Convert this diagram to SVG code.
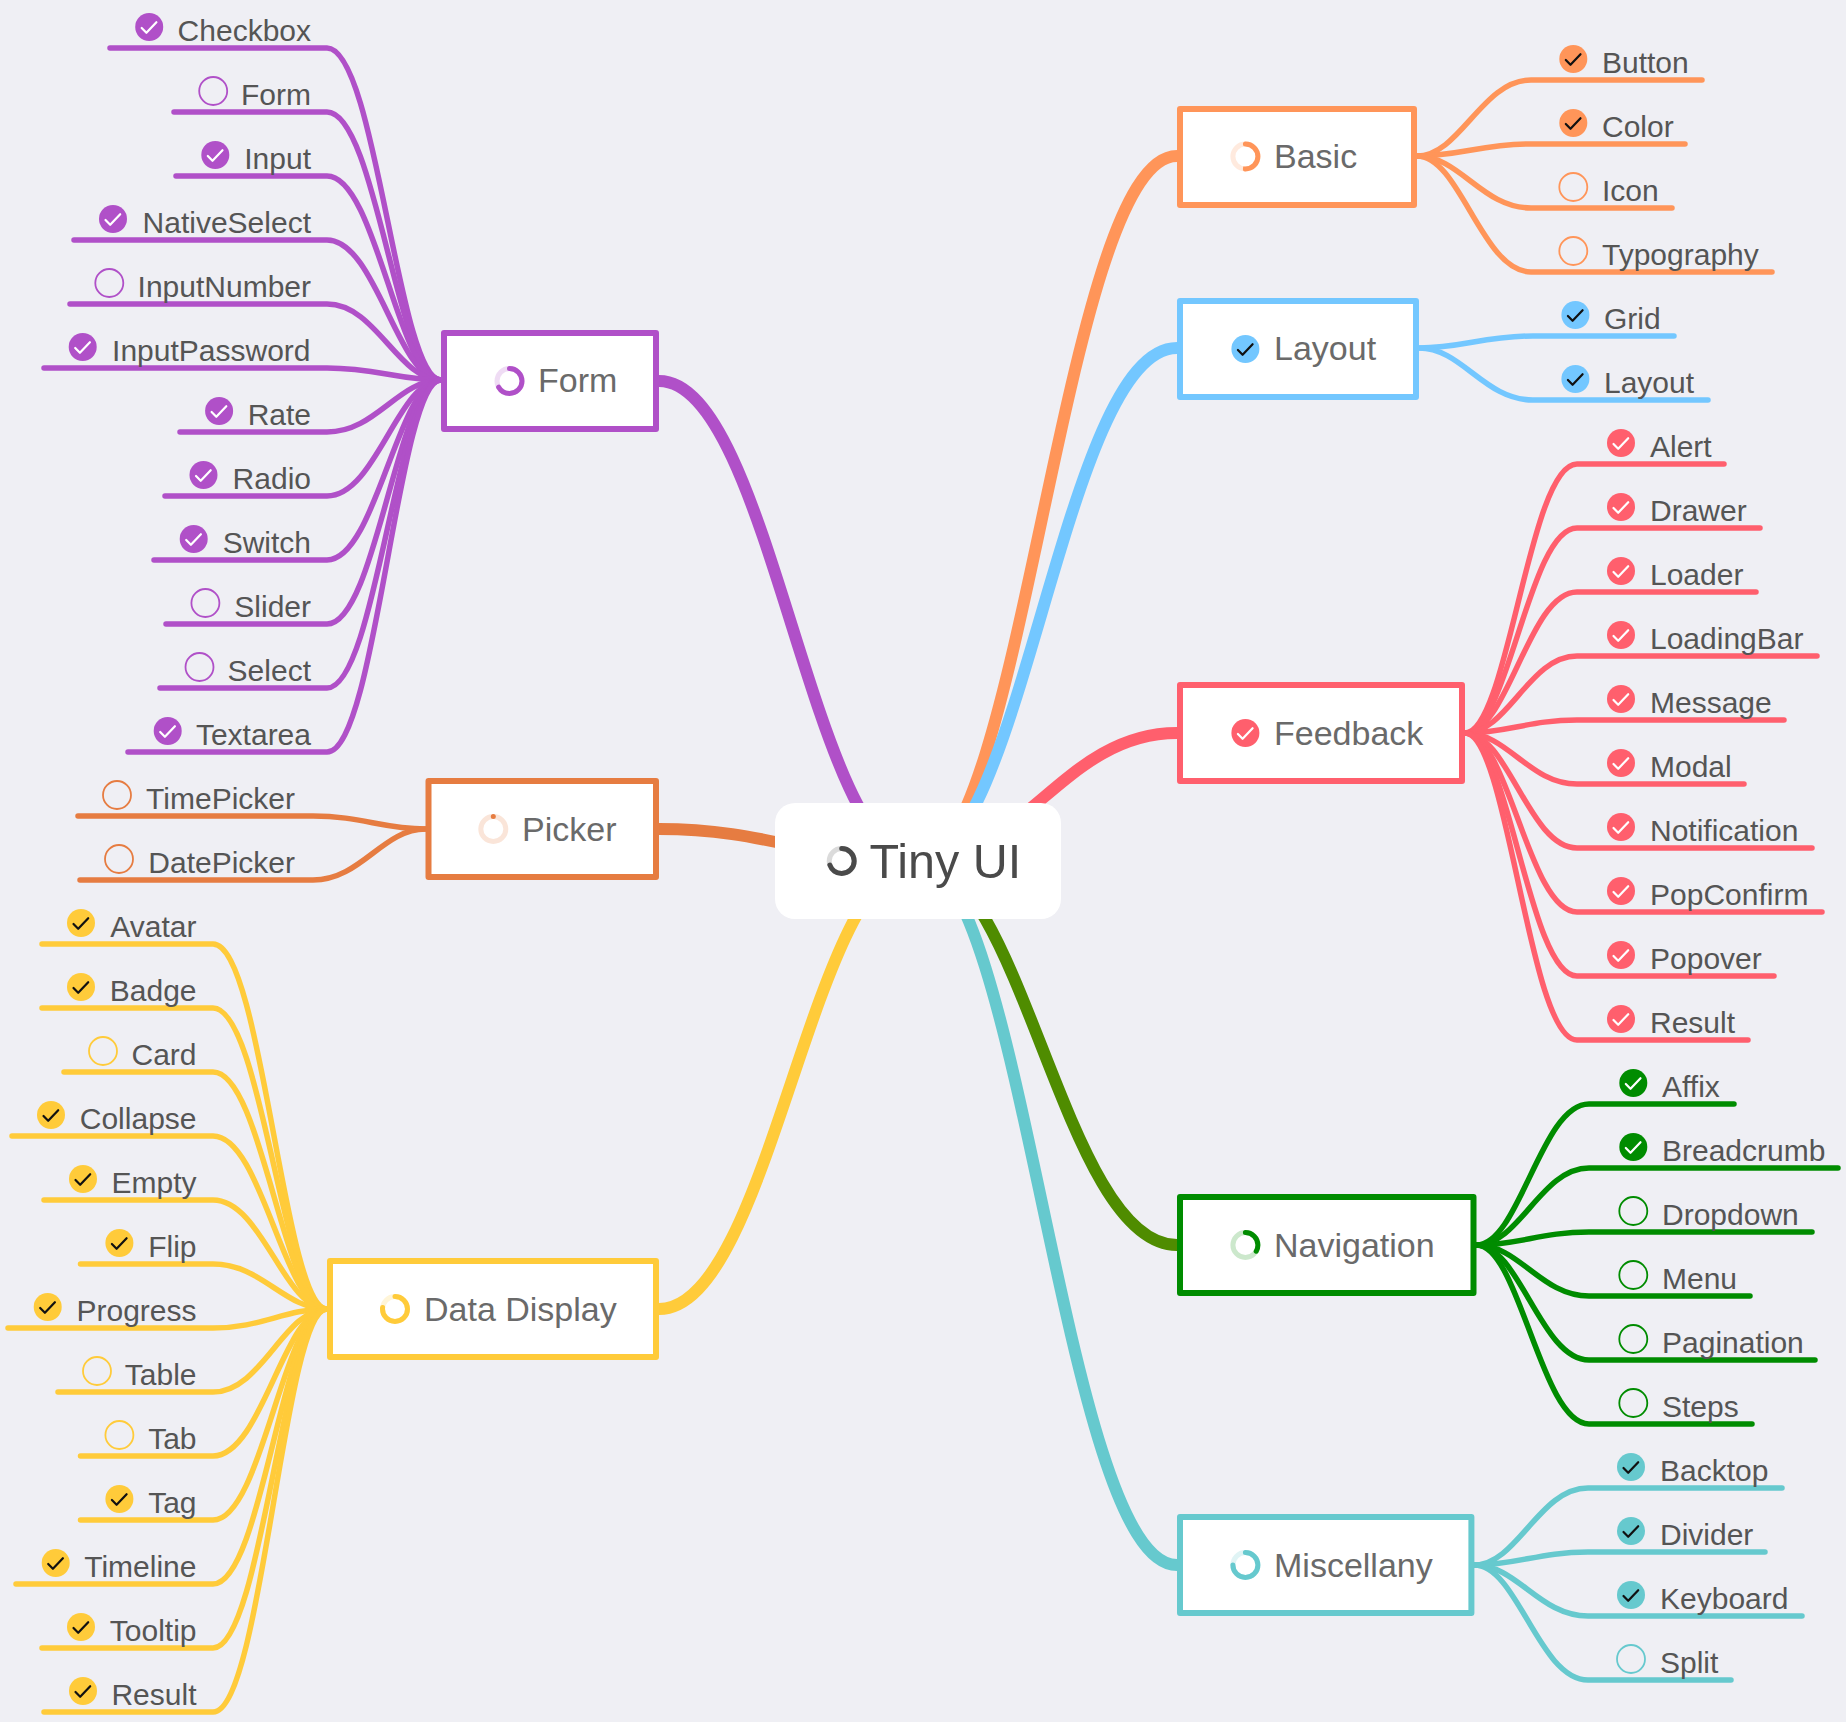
<svg xmlns="http://www.w3.org/2000/svg" width="1846" height="1722" viewBox="0 0 1846 1722">
<style>
text{font-family:"Liberation Sans",Arial,Helvetica,sans-serif}
.leaf{font-size:30px;fill:#555}
.e{text-anchor:end}
.hd{font-size:34px;fill:#6a6a6a}
.root{font-size:48.5px;fill:#4a4a4a}
.c path{fill:none;stroke-linecap:round}
.sub{stroke-width:5.5}
.main{stroke-width:12}
.box{fill:#fff;stroke-width:6;stroke-linejoin:round}
.hol{fill:none;stroke-width:1.8}
.t{fill:none;stroke-width:2.2;stroke:#111;stroke-linecap:round;stroke-linejoin:round}
.tw{fill:none;stroke-width:2.2;stroke:#fff;stroke-linecap:round;stroke-linejoin:round}
.rb{fill:none;stroke-width:5;stroke-opacity:.2}
.rf{fill:none;stroke-width:5;stroke-linecap:round}
.or{stroke:#ff9559}.orf{fill:#ff9559}
.bl{stroke:#73c7ff}.blf{fill:#73c7ff}
.re{stroke:#ff5f6d}.ref{fill:#ff5f6d}
.gr{stroke:#008c00}.grf{fill:#008c00}
.te{stroke:#66c9ce}.tef{fill:#66c9ce}
.ye{stroke:#ffcb3a}.yef{fill:#ffcb3a}
.pu{stroke:#b050c8}.puf{fill:#b050c8}
.pi{stroke:#e67c41}
</style>
<defs>
<path id="tick" d="M-7.5 1-2.8 5.8 7.2-4.8"/>
</defs>
<rect width="1846" height="1722" fill="#efeff4"/>
<g id="connectors" class="c">
<g id="main-branches" class="main">
<path class="or" d="M918 861C1022 861 1064 156 1177 156"/>
<path class="bl" d="M918 861C1022 861 1064 348 1177 348"/>
<path class="re" d="M918 861C1022 861 1064 733 1177 733"/>
<path stroke="#4f8c00" d="M918 861C1022 861 1064 1245 1177 1245"/>
<path class="te" d="M918 861C1022 861 1064 1565 1177 1565"/>
<path class="pu" d="M918 861C812 861 770 381 659 381"/>
<path class="pi" d="M918 861C812 861 770 829 659 829"/>
<path class="ye" d="M918 861C812 861 770 1309 659 1309"/>
</g>
<g id="basic-branches" class="sub or">
<path d="M1417 156C1460 156 1482 80 1531 80H1702"/>
<path d="M1417 156C1460 156 1482 144 1531 144H1685"/>
<path d="M1417 156C1460 156 1482 208 1531 208H1672"/>
<path d="M1417 156C1460 156 1482 272 1531 272H1772"/>
</g>
<g id="layout-branches" class="sub bl">
<path d="M1419 348C1462 348 1484 336 1533 336H1674"/>
<path d="M1419 348C1462 348 1484 400 1533 400H1708"/>
</g>
<g id="feedback-branches" class="sub re">
<path d="M1465 733C1508 733 1529 464 1577 464H1724"/>
<path d="M1465 733C1508 733 1529 528 1577 528H1760"/>
<path d="M1465 733C1508 733 1529 592 1577 592H1756"/>
<path d="M1465 733C1508 733 1529 656 1577 656H1817"/>
<path d="M1465 733C1508 733 1529 720 1577 720H1784"/>
<path d="M1465 733C1508 733 1529 784 1577 784H1744"/>
<path d="M1465 733C1508 733 1529 848 1577 848H1812"/>
<path d="M1465 733C1508 733 1529 912 1577 912H1822"/>
<path d="M1465 733C1508 733 1529 976 1577 976H1774"/>
<path d="M1465 733C1508 733 1529 1040 1577 1040H1748"/>
</g>
<g id="navigation-branches" class="sub gr">
<path d="M1476.5 1245C1519.5 1245 1541 1104 1589 1104H1734"/>
<path d="M1476.5 1245C1519.5 1245 1541 1168 1589 1168H1838"/>
<path d="M1476.5 1245C1519.5 1245 1541 1232 1589 1232H1812"/>
<path d="M1476.5 1245C1519.5 1245 1541 1296 1589 1296H1750"/>
<path d="M1476.5 1245C1519.5 1245 1541 1360 1589 1360H1815"/>
<path d="M1476.5 1245C1519.5 1245 1541 1424 1589 1424H1752"/>
</g>
<g id="miscellany-branches" class="sub te">
<path d="M1474.4 1565C1517.4 1565 1539 1488 1588 1488H1782"/>
<path d="M1474.4 1565C1517.4 1565 1539 1552 1588 1552H1765"/>
<path d="M1474.4 1565C1517.4 1565 1539 1616 1588 1616H1802"/>
<path d="M1474.4 1565C1517.4 1565 1539 1680 1588 1680H1731"/>
</g>
<g id="form-branches" class="sub pu">
<path d="M441 380C398 380 376 48 327 48H110"/>
<path d="M441 380C398 380 376 112 327 112H174"/>
<path d="M441 380C398 380 376 176 327 176H176"/>
<path d="M441 380C398 380 376 240 327 240H74"/>
<path d="M441 380C398 380 376 304 327 304H70"/>
<path d="M441 380C398 380 376 368 327 368H44"/>
<path d="M441 380C398 380 376 432 327 432H180"/>
<path d="M441 380C398 380 376 496 327 496H165"/>
<path d="M441 380C398 380 376 560 327 560H154"/>
<path d="M441 380C398 380 376 624 327 624H166"/>
<path d="M441 380C398 380 376 688 327 688H160"/>
<path d="M441 380C398 380 376 752 327 752H128"/>
</g>
<g id="picker-branches" class="sub pi">
<path d="M425.5 829C382.5 829 361 816 313 816H78"/>
<path d="M425.5 829C382.5 829 361 880 313 880H80"/>
</g>
<g id="data-branches" class="sub ye">
<path d="M327 1309C284 1309 262 944 213 944H42"/>
<path d="M327 1309C284 1309 262 1008 213 1008H42"/>
<path d="M327 1309C284 1309 262 1072 213 1072H64"/>
<path d="M327 1309C284 1309 262 1136 213 1136H12"/>
<path d="M327 1309C284 1309 262 1200 213 1200H44"/>
<path d="M327 1309C284 1309 262 1264 213 1264H80.5"/>
<path d="M327 1309C284 1309 262 1328 213 1328H8"/>
<path d="M327 1309C284 1309 262 1392 213 1392H58"/>
<path d="M327 1309C284 1309 262 1456 213 1456H80.5"/>
<path d="M327 1309C284 1309 262 1520 213 1520H80.5"/>
<path d="M327 1309C284 1309 262 1584 213 1584H16"/>
<path d="M327 1309C284 1309 262 1648 213 1648H42"/>
<path d="M327 1309C284 1309 262 1712 213 1712H44"/>
</g>
</g>
<g id="root">
<rect x="775" y="803" width="286" height="116" rx="20" fill="#fff"/>
<circle class="rb" cx="841.7" cy="861" r="12.5" stroke="#4a4a4a"/>
<circle class="rf" cx="841.7" cy="861" r="12.5" stroke="#4a4a4a" pathLength="360" stroke-dasharray="251 360" transform="rotate(-90 841.7 861)"/>
<text class="root" x="869.5" y="878">Tiny UI</text>
</g>
<g id="basic">
<rect class="box or" x="1180" y="109" width="234" height="96"/>
<circle class="rb or" cx="1245.4" cy="156.5" r="12.5"/>
<circle class="rf or" cx="1245.4" cy="156.5" r="12.5" pathLength="360" stroke-dasharray="180 360" transform="rotate(-90 1245.4 156.5)"/>
<text class="hd" x="1274" y="168">Basic</text>
</g>
<g id="layout">
<rect class="box bl" x="1180" y="301" width="236" height="96"/>
<circle class="blf" cx="1245.4" cy="349" r="14"/>
<use href="#tick" class="t" x="1245.4" y="349"/>
<text class="hd" x="1274" y="360">Layout</text>
</g>
<g id="feedback">
<rect class="box re" x="1180" y="685" width="282" height="96"/>
<circle class="ref" cx="1245.4" cy="733" r="14"/>
<use href="#tick" class="tw" x="1245.4" y="733"/>
<text class="hd" x="1274" y="745">Feedback</text>
</g>
<g id="navigation">
<rect class="box gr" x="1180" y="1197" width="293.5" height="96"/>
<circle class="rb gr" cx="1245.4" cy="1245" r="12.5"/>
<circle class="rf gr" cx="1245.4" cy="1245" r="12.5" pathLength="360" stroke-dasharray="120 360" transform="rotate(-90 1245.4 1245)"/>
<text class="hd" x="1274" y="1257">Navigation</text>
</g>
<g id="miscellany">
<rect class="box te" x="1180" y="1517" width="291.4" height="96"/>
<circle class="rb te" cx="1245.4" cy="1565" r="12.5"/>
<circle class="rf te" cx="1245.4" cy="1565" r="12.5" pathLength="360" stroke-dasharray="270 360" transform="rotate(-90 1245.4 1565)"/>
<text class="hd" x="1274" y="1577">Miscellany</text>
</g>
<g id="form">
<rect class="box pu" x="444" y="333" width="212" height="96"/>
<circle class="rb pu" cx="509.5" cy="381" r="12.5"/>
<circle class="rf pu" cx="509.5" cy="381" r="12.5" pathLength="360" stroke-dasharray="240 360" transform="rotate(-90 509.5 381)"/>
<text class="hd" x="538" y="392">Form</text>
</g>
<g id="picker">
<rect class="box pi" x="428.5" y="781" width="227.5" height="96"/>
<circle class="rb pi" cx="493.3" cy="829" r="12.5"/>
<circle class="rf pi" cx="493.3" cy="829" r="12.5" pathLength="360" stroke-dasharray="0 360" transform="rotate(-90 493.3 829)"/>
<text class="hd" x="522" y="840.5">Picker</text>
</g>
<g id="data-display">
<rect class="box ye" x="330" y="1261" width="326" height="96"/>
<circle class="rb ye" cx="395" cy="1309" r="12.5"/>
<circle class="rf ye" cx="395" cy="1309" r="12.5" pathLength="360" stroke-dasharray="277 360" transform="rotate(-90 395 1309)"/>
<text class="hd" x="424" y="1321">Data Display</text>
</g>
<g id="basic-leaves">
<g id="l-button"><circle class="orf" cx="1573.3" cy="59" r="14"/><use href="#tick" class="t" x="1573.3" y="59"/><text class="leaf" x="1602" y="72.5">Button</text></g>
<g id="l-color"><circle class="orf" cx="1573.3" cy="123" r="14"/><use href="#tick" class="t" x="1573.3" y="123"/><text class="leaf" x="1602" y="136.5">Color</text></g>
<g id="l-icon"><circle class="hol or" cx="1573.3" cy="187" r="14"/><text class="leaf" x="1602" y="200.5">Icon</text></g>
<g id="l-typography"><circle class="hol or" cx="1573.3" cy="251" r="14"/><text class="leaf" x="1602" y="264.5">Typography</text></g>
</g>
<g id="layout-leaves">
<g id="l-grid"><circle class="blf" cx="1575.4" cy="315" r="14"/><use href="#tick" class="t" x="1575.4" y="315"/><text class="leaf" x="1604" y="328.5">Grid</text></g>
<g id="l-layout"><circle class="blf" cx="1575.4" cy="379" r="14"/><use href="#tick" class="t" x="1575.4" y="379"/><text class="leaf" x="1604" y="392.5">Layout</text></g>
</g>
<g id="feedback-leaves">
<g id="l-alert"><circle class="ref" cx="1621" cy="443" r="14"/><use href="#tick" class="tw" x="1621" y="443"/><text class="leaf" x="1650" y="456.5">Alert</text></g>
<g id="l-drawer"><circle class="ref" cx="1621" cy="507" r="14"/><use href="#tick" class="tw" x="1621" y="507"/><text class="leaf" x="1650" y="520.5">Drawer</text></g>
<g id="l-loader"><circle class="ref" cx="1621" cy="571" r="14"/><use href="#tick" class="tw" x="1621" y="571"/><text class="leaf" x="1650" y="584.5">Loader</text></g>
<g id="l-loadingbar"><circle class="ref" cx="1621" cy="635" r="14"/><use href="#tick" class="tw" x="1621" y="635"/><text class="leaf" x="1650" y="648.5">LoadingBar</text></g>
<g id="l-message"><circle class="ref" cx="1621" cy="699" r="14"/><use href="#tick" class="tw" x="1621" y="699"/><text class="leaf" x="1650" y="712.5">Message</text></g>
<g id="l-modal"><circle class="ref" cx="1621" cy="763" r="14"/><use href="#tick" class="tw" x="1621" y="763"/><text class="leaf" x="1650" y="776.5">Modal</text></g>
<g id="l-notification"><circle class="ref" cx="1621" cy="827" r="14"/><use href="#tick" class="tw" x="1621" y="827"/><text class="leaf" x="1650" y="840.5">Notification</text></g>
<g id="l-popconfirm"><circle class="ref" cx="1621" cy="891" r="14"/><use href="#tick" class="tw" x="1621" y="891"/><text class="leaf" x="1650" y="904.5">PopConfirm</text></g>
<g id="l-popover"><circle class="ref" cx="1621" cy="955" r="14"/><use href="#tick" class="tw" x="1621" y="955"/><text class="leaf" x="1650" y="968.5">Popover</text></g>
<g id="l-result"><circle class="ref" cx="1621" cy="1019" r="14"/><use href="#tick" class="tw" x="1621" y="1019"/><text class="leaf" x="1650" y="1032.5">Result</text></g>
</g>
<g id="navigation-leaves">
<g id="l-affix"><circle class="grf" cx="1633.3" cy="1083" r="14"/><use href="#tick" class="tw" x="1633.3" y="1083"/><text class="leaf" x="1662" y="1096.5">Affix</text></g>
<g id="l-breadcrumb"><circle class="grf" cx="1633.3" cy="1147" r="14"/><use href="#tick" class="tw" x="1633.3" y="1147"/><text class="leaf" x="1662" y="1160.5">Breadcrumb</text></g>
<g id="l-dropdown"><circle class="hol gr" cx="1633.3" cy="1211" r="14"/><text class="leaf" x="1662" y="1224.5">Dropdown</text></g>
<g id="l-menu"><circle class="hol gr" cx="1633.3" cy="1275" r="14"/><text class="leaf" x="1662" y="1288.5">Menu</text></g>
<g id="l-pagination"><circle class="hol gr" cx="1633.3" cy="1339" r="14"/><text class="leaf" x="1662" y="1352.5">Pagination</text></g>
<g id="l-steps"><circle class="hol gr" cx="1633.3" cy="1403" r="14"/><text class="leaf" x="1662" y="1416.5">Steps</text></g>
</g>
<g id="miscellany-leaves">
<g id="l-backtop"><circle class="tef" cx="1631" cy="1467" r="14"/><use href="#tick" class="t" x="1631" y="1467"/><text class="leaf" x="1660" y="1480.5">Backtop</text></g>
<g id="l-divider"><circle class="tef" cx="1631" cy="1531" r="14"/><use href="#tick" class="t" x="1631" y="1531"/><text class="leaf" x="1660" y="1544.5">Divider</text></g>
<g id="l-keyboard"><circle class="tef" cx="1631" cy="1595" r="14"/><use href="#tick" class="t" x="1631" y="1595"/><text class="leaf" x="1660" y="1608.5">Keyboard</text></g>
<g id="l-split"><circle class="hol te" cx="1631" cy="1659" r="14"/><text class="leaf" x="1660" y="1672.5">Split</text></g>
</g>
<g id="form-leaves">
<g id="l-checkbox"><circle class="puf" cx="149.2" cy="27" r="14"/><use href="#tick" class="tw" x="149.2" y="27"/><text class="leaf e" x="311" y="40.5">Checkbox</text></g>
<g id="l-form"><circle class="hol pu" cx="213.2" cy="91" r="14"/><text class="leaf e" x="311" y="104.5">Form</text></g>
<g id="l-input"><circle class="puf" cx="215.3" cy="155" r="14"/><use href="#tick" class="tw" x="215.3" y="155"/><text class="leaf e" x="311" y="168.5">Input</text></g>
<g id="l-nativeselect"><circle class="puf" cx="113" cy="219" r="14"/><use href="#tick" class="tw" x="113" y="219"/><text class="leaf e" x="311" y="232.5">NativeSelect</text></g>
<g id="l-inputnumber"><circle class="hol pu" cx="109.3" cy="283" r="14"/><text class="leaf e" x="311" y="296.5">InputNumber</text></g>
<g id="l-inputpassword"><circle class="puf" cx="82.7" cy="347" r="14"/><use href="#tick" class="tw" x="82.7" y="347"/><text class="leaf e" x="310.5" y="360.5">InputPassword</text></g>
<g id="l-rate"><circle class="puf" cx="219.1" cy="411" r="14"/><use href="#tick" class="tw" x="219.1" y="411"/><text class="leaf e" x="311" y="424.5">Rate</text></g>
<g id="l-radio"><circle class="puf" cx="203.5" cy="475" r="14"/><use href="#tick" class="tw" x="203.5" y="475"/><text class="leaf e" x="311" y="488.5">Radio</text></g>
<g id="l-switch"><circle class="puf" cx="193.7" cy="539" r="14"/><use href="#tick" class="tw" x="193.7" y="539"/><text class="leaf e" x="311" y="552.5">Switch</text></g>
<g id="l-slider"><circle class="hol pu" cx="205.4" cy="603" r="14"/><text class="leaf e" x="311" y="616.5">Slider</text></g>
<g id="l-select"><circle class="hol pu" cx="199.5" cy="667" r="14"/><text class="leaf e" x="311" y="680.5">Select</text></g>
<g id="l-textarea"><circle class="puf" cx="167.7" cy="731" r="14"/><use href="#tick" class="tw" x="167.7" y="731"/><text class="leaf e" x="311" y="744.5">Textarea</text></g>
</g>
<g id="picker-leaves">
<g id="l-timepicker"><circle class="hol pi" cx="117" cy="795" r="14"/><text class="leaf e" x="295" y="808.5">TimePicker</text></g>
<g id="l-datepicker"><circle class="hol pi" cx="119" cy="859" r="14"/><text class="leaf e" x="295" y="872.5">DatePicker</text></g>
</g>
<g id="data-leaves">
<g id="l-avatar"><circle class="yef" cx="81" cy="923" r="14"/><use href="#tick" class="t" x="81" y="923"/><text class="leaf e" x="196.5" y="936.5">Avatar</text></g>
<g id="l-badge"><circle class="yef" cx="81" cy="987" r="14"/><use href="#tick" class="t" x="81" y="987"/><text class="leaf e" x="196.5" y="1000.5">Badge</text></g>
<g id="l-card"><circle class="hol ye" cx="103" cy="1051" r="14"/><text class="leaf e" x="196.5" y="1064.5">Card</text></g>
<g id="l-collapse"><circle class="yef" cx="51" cy="1115" r="14"/><use href="#tick" class="t" x="51" y="1115"/><text class="leaf e" x="196.5" y="1128.5">Collapse</text></g>
<g id="l-empty"><circle class="yef" cx="83" cy="1179" r="14"/><use href="#tick" class="t" x="83" y="1179"/><text class="leaf e" x="196.5" y="1192.5">Empty</text></g>
<g id="l-flip"><circle class="yef" cx="119.4" cy="1243" r="14"/><use href="#tick" class="t" x="119.4" y="1243"/><text class="leaf e" x="196.5" y="1256.5">Flip</text></g>
<g id="l-progress"><circle class="yef" cx="47.7" cy="1307" r="14"/><use href="#tick" class="t" x="47.7" y="1307"/><text class="leaf e" x="196.5" y="1320.5">Progress</text></g>
<g id="l-table"><circle class="hol ye" cx="97" cy="1371" r="14"/><text class="leaf e" x="196.5" y="1384.5">Table</text></g>
<g id="l-tab"><circle class="hol ye" cx="119.4" cy="1435" r="14"/><text class="leaf e" x="196.5" y="1448.5">Tab</text></g>
<g id="l-tag"><circle class="yef" cx="119.4" cy="1499" r="14"/><use href="#tick" class="t" x="119.4" y="1499"/><text class="leaf e" x="196.5" y="1512.5">Tag</text></g>
<g id="l-timeline"><circle class="yef" cx="55.7" cy="1563" r="14"/><use href="#tick" class="t" x="55.7" y="1563"/><text class="leaf e" x="196.5" y="1576.5">Timeline</text></g>
<g id="l-tooltip"><circle class="yef" cx="81" cy="1627" r="14"/><use href="#tick" class="t" x="81" y="1627"/><text class="leaf e" x="196.5" y="1640.5">Tooltip</text></g>
<g id="l-result2"><circle class="yef" cx="83" cy="1691" r="14"/><use href="#tick" class="t" x="83" y="1691"/><text class="leaf e" x="196.5" y="1704.5">Result</text></g>
</g>
</svg>
